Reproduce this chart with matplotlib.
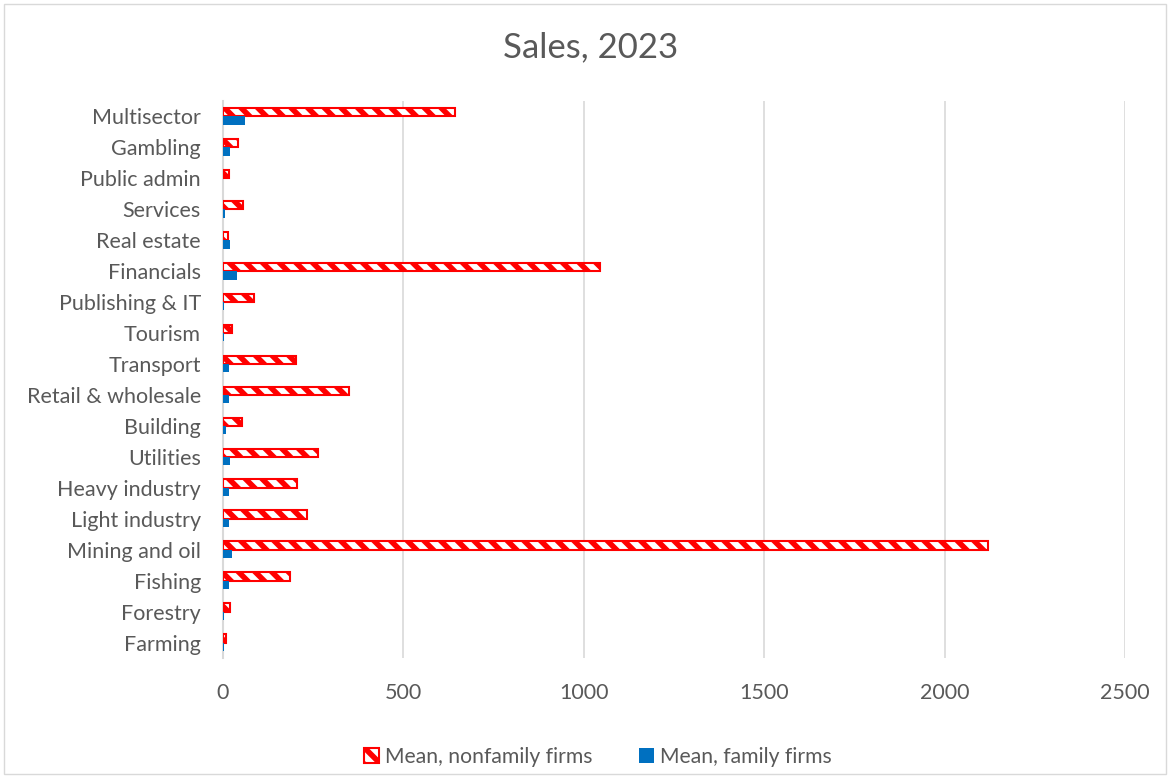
import matplotlib
matplotlib.use("Agg")
import matplotlib.pyplot as plt
import numpy as np
from matplotlib.patches import Rectangle, Patch

categories = ["Farming", "Forestry", "Fishing", "Mining and oil", "Light industry",
              "Heavy industry", "Utilities", "Building", "Retail & wholesale",
              "Transport", "Tourism", "Publishing & IT", "Financials",
              "Real estate", "Services", "Public admin", "Gambling", "Multisector"]
nonfamily = [9, 20, 186, 2120, 233, 205, 262, 53, 350,
             203, 25, 85, 1045, 15, 56, 16, 42, 643]
family = [3, 3, 16, 25, 16, 16, 20, 7, 17,
          16, 4, 2, 40, 19, 5, 1, 20, 62]

GRAY = "#595959"
plt.rcParams["font.family"] = ["Lato", "DejaVu Sans"]
plt.rcParams["hatch.linewidth"] = 4.0

fig = plt.figure(figsize=(11.7, 7.78), dpi=100)
ax = fig.add_axes([223 / 1170, 1 - 658 / 778, (1125 - 223) / 1170, (658 - 101) / 778])

y = np.arange(len(categories))
h = 0.27
ax.barh(y + h / 2, nonfamily, height=h, color="white", edgecolor="#ff0000",
        hatch="\\\\", linewidth=1.5, zorder=3, label="Mean, nonfamily firms")
ax.barh(y - h / 2, family, height=h, color="#0070c0", zorder=3,
        label="Mean, family firms")

ax.set_xlim(0, 2500)
ax.set_ylim(-0.5, len(categories) - 0.5)
ax.set_xticks(range(0, 2501, 500))
ax.set_yticks(y)
ax.set_yticklabels(categories)
ax.tick_params(axis="both", length=0, labelsize=15.5, labelcolor=GRAY)
ax.tick_params(axis="x", pad=18)
ax.tick_params(axis="y", pad=16)
ax.grid(axis="x", color="#d9d9d9", linewidth=1.2, zorder=0)
for s in ["top", "right", "bottom"]:
    ax.spines[s].set_visible(False)
ax.spines["left"].set_color("#d9d9d9")
ax.spines["left"].set_linewidth(1.5)

fig.text(591 / 1170, 1 - 47 / 778, "Sales, 2023", ha="center", va="center",
         fontsize=25, color=GRAY)

handles = [Patch(facecolor="white", edgecolor="#ff0000", hatch="\\\\", linewidth=1.5,
                 label="Mean, nonfamily firms"),
           Patch(facecolor="#0070c0", label="Mean, family firms")]
fig.legend(handles=handles, loc="center", bbox_to_anchor=(598 / 1170, 1 - 757 / 778),
           ncol=2, frameon=False, fontsize=15.2, labelcolor=GRAY,
           handlelength=0.7, handleheight=0.7, handletextpad=0.3, columnspacing=2.2)

fig.patches.append(Rectangle((4 / 1170, 4 / 778), 1 - 8 / 1170, 1 - 8 / 778,
                             transform=fig.transFigure, fill=False,
                             edgecolor="#d9d9d9", linewidth=1))

fig.savefig("out.png", dpi=100)
